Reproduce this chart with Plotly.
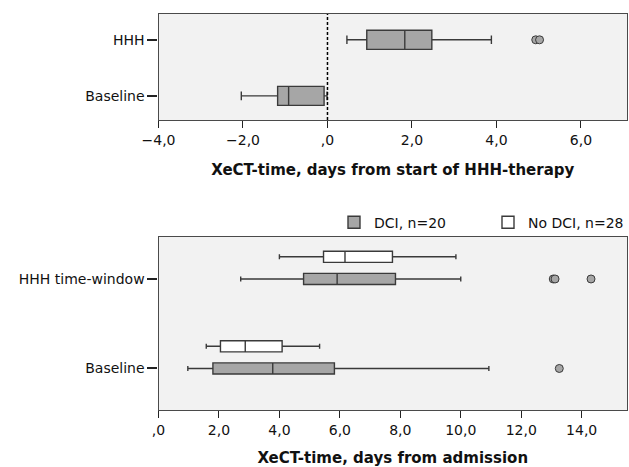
import plotly.graph_objects as go

# ---------------- data ----------------
top_categories = ["HHH", "Baseline"]
top_lowerfence = [0.46, -2.04]
top_q1 = [0.93, -1.18]
top_median = [1.83, -0.92]
top_q3 = [2.47, -0.08]
top_upperfence = [3.88, -0.01]
top_outliers = [[4.93, 5.02], []]
ref_line_x = 0  # start of HHH-therapy

bot_categories = ["HHH time-window", "Baseline"]
dci_lowerfence = [2.72, 0.97]
dci_q1 = [4.80, 1.80]
dci_median = [5.91, 3.78]
dci_q3 = [7.84, 5.82]
dci_upperfence = [10.00, 10.93]
dci_outliers = [[13.06, 13.12, 14.31], [13.26]]

nodci_lowerfence = [4.00, 1.58]
nodci_q1 = [5.46, 2.05]
nodci_median = [6.17, 2.87]
nodci_q3 = [7.74, 4.09]
nodci_upperfence = [9.84, 5.33]

top_ticks = [-4, -2, 0, 2, 4, 6]
top_ticktext = ["\u22124,0", "\u22122,0", ",0", "2,0", "4,0", "6,0"]
bot_ticks = [0, 2, 4, 6, 8, 10, 12, 14]
bot_ticktext = [",0", "2,0", "4,0", "6,0", "8,0", "10,0", "12,0", "14,0"]

top_title = "XeCT-time, days from start of HHH-therapy"
bot_title = "XeCT-time, days from admission"
dci_name = "DCI, n=20"
nodci_name = "No DCI, n=28"

# ---------------- styles ----------------
W, H = 629, 467
FONT = "DejaVu Sans"
GRAY = "#a6a6a6"
EDGE = "#3a3a3a"
FRAME = "#4a4a4a"

outlier_marker = dict(size=8, color=GRAY, outliercolor=GRAY,
                      line=dict(color=EDGE, width=1, outliercolor=EDGE, outlierwidth=1))

fig = go.Figure()

fig.add_trace(go.Box(
    y=top_categories, x=top_outliers, q1=top_q1, median=top_median, q3=top_q3,
    lowerfence=top_lowerfence, upperfence=top_upperfence,
    orientation="h", xaxis="x", yaxis="y", width=0.34, whiskerwidth=0.45,
    fillcolor=GRAY, line=dict(color=EDGE, width=1.4), boxpoints="outliers",
    pointpos=0, marker=outlier_marker, showlegend=False, hoverinfo="skip"))

fig.add_trace(go.Box(
    y=bot_categories, x=dci_outliers, q1=dci_q1, median=dci_median, q3=dci_q3,
    lowerfence=dci_lowerfence, upperfence=dci_upperfence,
    orientation="h", xaxis="x2", yaxis="y2", whiskerwidth=0.45,
    fillcolor=GRAY, line=dict(color=EDGE, width=1.4), boxpoints="outliers",
    pointpos=0, marker=outlier_marker, name=dci_name, showlegend=True,
    hoverinfo="skip"))
fig.add_trace(go.Box(
    y=bot_categories, q1=nodci_q1, median=nodci_median, q3=nodci_q3,
    lowerfence=nodci_lowerfence, upperfence=nodci_upperfence,
    orientation="h", xaxis="x2", yaxis="y2", whiskerwidth=0.45,
    fillcolor="white", line=dict(color=EDGE, width=1.4), boxpoints=False,
    name=nodci_name, showlegend=True, hoverinfo="skip"))

xdom = [158.5 / W, 627.0 / W]
top_dom = [(H - 120) / H, (H - 14) / H]
bot_dom = [(H - 410) / H, (H - 237) / H]

tickfont = dict(family=FONT, size=14, color="#111")
titlefont = dict(family=FONT, size=15, color="#111", weight="bold")

common_x = dict(showline=True, linecolor=FRAME, linewidth=1.2, mirror=True,
                ticks="outside", ticklen=7, tickcolor="#222", tickwidth=1.2,
                showgrid=False, zeroline=False, tickfont=tickfont,
                automargin=False, tickmode="array")
common_y = dict(type="category", categoryorder="array", showline=True,
                linecolor=FRAME, linewidth=1.2, mirror=True, ticks="outside",
                ticklen=10, tickcolor="#222", tickwidth=1.5, showgrid=False,
                zeroline=False, tickfont=tickfont, automargin=False)

fig.update_layout(
    width=W, height=H,
    margin=dict(l=0, r=0, t=0, b=0, autoexpand=False),
    paper_bgcolor="white", plot_bgcolor="#f2f2f2",
    font=dict(family=FONT, size=14, color="#111"),
    boxmode="group", boxgap=0.256, boxgroupgap=0.497,
    xaxis=dict(domain=xdom, anchor="y", range=[-4, 7.09],
               tickvals=top_ticks, ticktext=top_ticktext,
               title=dict(text=top_title, font=titlefont, standoff=17), **common_x),
    yaxis=dict(domain=top_dom, anchor="x", categoryarray=["Baseline", "HHH"],
               range=[-0.43, 1.46], **common_y),
    xaxis2=dict(domain=xdom, anchor="y2", range=[0, 15.5],
                tickvals=bot_ticks, ticktext=bot_ticktext,
                title=dict(text=bot_title, font=titlefont, standoff=17), **common_x),
    yaxis2=dict(domain=bot_dom, anchor="x2",
                categoryarray=["Baseline", "HHH time-window"],
                range=[-0.464, 1.469], **common_y),
    legend=dict(orientation="h", x=0.531, xanchor="left", y=(H - 222.7) / H,
                yanchor="middle", font=dict(family=FONT, size=14, color="#111"),
                bgcolor="rgba(0,0,0,0)", entrywidth=109, entrywidthmode="pixels",
                tracegroupgap=0, itemclick=False),
    showlegend=True,
)

fig.add_shape(type="line", xref="x", yref="y domain", x0=ref_line_x, x1=ref_line_x,
              y0=0, y1=1, line=dict(color="black", width=1.5, dash="3px,2px"))

fig.write_html("out.html")
